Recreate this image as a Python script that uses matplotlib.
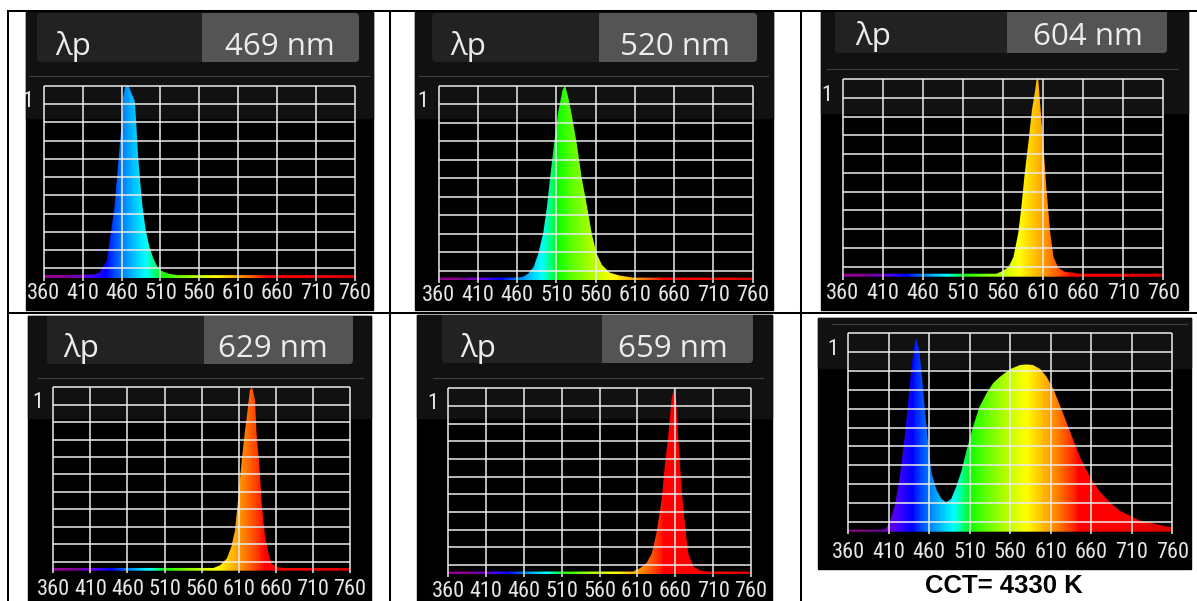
import numpy as np
import matplotlib
matplotlib.use("Agg")
import matplotlib.pyplot as plt
from matplotlib import font_manager as fm
from matplotlib.patches import Rectangle, FancyBboxPatch

W, H = 1197, 601

# wavelength axis labels
ticks = [360, 410, 460, 510, 560, 610, 660, 710, 760]
peak_labels = ["469 nm", "520 nm", "604 nm", "629 nm", "659 nm"]
cct_label = "CCT= 4330 K"

# relative spectra
wl_469 = [360, 425, 432, 441, 446, 451, 455, 459, 462, 465, 469, 472, 477, 479, 481, 484, 487, 491, 496, 501, 506, 510, 518, 530, 760]
rel_469 = [0.015, 0.018, 0.03, 0.09, 0.23, 0.37, 0.56, 0.75, 0.94, 1.0, 1.0, 0.97, 0.92, 0.80, 0.65, 0.50, 0.37, 0.25, 0.16, 0.10, 0.06, 0.04, 0.025, 0.015, 0.015]

wl_520 = [360, 460, 468, 474, 481, 487, 493, 498, 502, 507, 512, 518, 521, 525, 529, 536, 542, 549, 555, 561, 568, 578, 591, 608, 760]
rel_520 = [0.015, 0.015, 0.02, 0.035, 0.07, 0.14, 0.24, 0.38, 0.53, 0.70, 0.86, 0.98, 1.0, 0.94, 0.86, 0.70, 0.53, 0.38, 0.24, 0.14, 0.08, 0.04, 0.025, 0.015, 0.015]

wl_604 = [360, 552, 560, 567, 573, 579, 583, 587, 592, 596, 600, 602, 604, 607, 610, 614, 619, 623, 629, 637, 656, 760]
rel_604 = [0.015, 0.015, 0.03, 0.05, 0.10, 0.22, 0.355, 0.52, 0.69, 0.84, 0.94, 1.0, 1.0, 0.84, 0.69, 0.455, 0.22, 0.10, 0.045, 0.025, 0.015, 0.015]

wl_629 = [360, 576, 585, 594, 600, 605, 609, 614, 618, 622, 625, 628, 632, 634, 638, 641, 645, 650, 654, 661, 670, 760]
rel_629 = [0.015, 0.015, 0.03, 0.067, 0.13, 0.22, 0.385, 0.60, 0.75, 0.876, 0.985, 1.0, 0.93, 0.75, 0.567, 0.367, 0.204, 0.095, 0.04, 0.02, 0.015, 0.015]

wl_659 = [360, 604, 613, 622, 629, 635, 642, 646, 651, 655, 658, 661, 664, 668, 673, 677, 684, 693, 699, 760]
rel_659 = [0.015, 0.015, 0.032, 0.06, 0.113, 0.22, 0.40, 0.58, 0.76, 0.94, 1.0, 0.94, 0.72, 0.47, 0.256, 0.113, 0.041, 0.02, 0.015, 0.015]

wl_cct = [360, 403, 407, 411, 418, 424, 430, 434, 438, 442, 444, 448, 451, 455, 459, 463, 469, 475, 481, 487, 493, 500, 506, 514, 522, 531, 539, 547, 560, 572, 580, 588, 597, 605, 613, 621, 630, 638, 646, 654, 662, 671, 683, 695, 708, 720, 736, 749, 760]
rel_cct = [0.01, 0.01, 0.02, 0.047, 0.14, 0.29, 0.49, 0.66, 0.83, 0.95, 0.975, 0.90, 0.78, 0.595, 0.43, 0.29, 0.21, 0.165, 0.148, 0.165, 0.224, 0.31, 0.41, 0.53, 0.63, 0.70, 0.75, 0.78, 0.82, 0.84, 0.843, 0.84, 0.82, 0.78, 0.72, 0.64, 0.545, 0.46, 0.376, 0.31, 0.25, 0.20, 0.148, 0.106, 0.08, 0.056, 0.042, 0.03, 0.022]

# pick a narrow face for the instrument's axis numbers
names = {f.name for f in fm.fontManager.ttflist}
if "Liberation Sans Narrow" in names:
    narrow = fm.FontProperties(family="Liberation Sans Narrow", size=16)
elif "Roboto Condensed" in names:
    narrow = fm.FontProperties(family="Roboto Condensed", size=16)
else:
    narrow = fm.FontProperties(family="DejaVu Sans", stretch="condensed", size=14)
head_font = "Open Sans" if "Open Sans" in names else "DejaVu Sans"


def wl_rgb(w):
    # Bruton style wavelength -> colour, a little less red in the violet
    if w < 440:
        r, g, b = min(1.0, (440 - w) / 60) ** 1.4, 0.0, 1.0
    elif w < 490:
        r, g, b = 0.0, (w - 440) / 50, 1.0
    elif w < 510:
        r, g, b = 0.0, 1.0, (510 - w) / 20
    elif w < 580:
        r, g, b = (w - 510) / 70, 1.0, 0.0
    elif w < 645:
        r, g, b = 1.0, (645 - w) / 65, 0.0
    else:
        r, g, b = 1.0, 0.0, 0.0
    if w < 420:
        f = max(0.5, 0.3 + 0.7 * (w - 380) / 40)
    elif w > 700:
        f = 1 - 0.2 * (w - 700) / 60
    else:
        f = 1.0
    return [(c * f) ** 0.8 for c in (r, g, b)]


lam = np.arange(360, 761)
spec_img = np.array([wl_rgb(w) for w in lam])[np.newaxis, :, :]

fig = plt.figure(figsize=(W / 100, H / 100), dpi=100, facecolor="white")
ax0 = fig.add_axes([0, 0, 1, 1])
ax0.set_xlim(0, W)
ax0.set_ylim(H, 0)
ax0.axis("off")


def fig_rect(x0, y0, x1, y1):
    return [x0 / W, 1 - y1 / H, (x1 - x0) / W, (y1 - y0) / H]


def draw_panel(panel, light_to, sep, grid, wl, rel, header=None, lab_pad=3.0):
    px0, py0, px1, py1 = panel
    bg = Rectangle((px0, py0), px1 - px0, py1 - py0, color="black", zorder=1)
    ax0.add_patch(bg)
    ax0.add_patch(Rectangle((px0, py0), px1 - px0, light_to - py0, color="#111111", zorder=1.5))
    sy, sx0, sx1 = sep
    ax0.plot([sx0, sx1], [sy, sy], color="#404040", lw=0.8, zorder=2)

    if header is not None:
        (hx0, hy0, hx1, hy1, split), lam_pos, val_pos, text = header
        rr = 4
        boxes = [
            FancyBboxPatch((hx0 + rr, hy0 + rr), hx1 - hx0 - 2 * rr, hy1 - hy0 - 2 * rr,
                           boxstyle="round,pad=%d" % rr, fc="#222222", ec="none", zorder=2),
            FancyBboxPatch((split + rr, hy0 + rr), hx1 - split - 2 * rr, hy1 - hy0 - 2 * rr,
                           boxstyle="round,pad=%d" % rr, fc="#545454", ec="none", zorder=2.1),
            Rectangle((split, hy0), 2 * rr + 1, hy1 - hy0, fc="#545454", ec="none", zorder=2.2),
        ]
        for b in boxes:
            ax0.add_patch(b)
            b.set_clip_path(bg)
        ax0.text(lam_pos[0], lam_pos[1], "λp", color="#ececec", fontsize=22.5,
                 family=head_font, ha="left", va="baseline", zorder=3)
        ax0.text(val_pos[0], val_pos[1], text, color="#ececec", fontsize=22.5,
                 family=head_font, ha="right", va="baseline", zorder=3)

    gx0, gx1, gtop, gbase, gbot = grid
    npp = 400 / (gx1 - gx0)
    u = 1 / (gbase - gtop)
    ax = fig.add_axes(fig_rect(gx0 - 1, gtop - 1, gx1 + 1, gbot))
    ax.set_facecolor("none")
    for s in ax.spines.values():
        s.set_visible(False)

    poly = ax.fill_between(wl, 0, rel, facecolor="none", edgecolor="none")
    im = ax.imshow(spec_img, extent=[360, 760, 0, 1], aspect="auto",
                   interpolation="bilinear", zorder=1)
    im.set_clip_path(poly.get_paths()[0], transform=ax.transData)

    ylo = -(gbot - gbase) * u
    hl = np.linspace(0.05, 1.0, 11)
    ax.hlines(hl, 360, 760, color="#ececec", lw=1.1, zorder=3)
    ax.vlines(ticks, ylo, 1.0, color="#ececec", lw=1.1, zorder=3)

    ax.set_xlim(360 - npp, 760 + npp)
    ax.set_ylim(ylo, 1 + u)
    ax.set_xticks(ticks, [str(t) for t in ticks])
    ax.set_yticks([0.93], ["1"])
    ax.tick_params(length=0, colors="#e6e6e6")
    ax.tick_params(axis="x", pad=lab_pad)
    ax.tick_params(axis="y", pad=6.5)
    for lab in ax.get_xticklabels() + ax.get_yticklabels():
        lab.set_fontproperties(narrow)
    return ax


draw_panel((26, 12, 373, 310), 118, (76, 29, 369), (43.7, 355, 85.7, 278, 280.5),
           wl_469, rel_469, header=((37, 13, 359, 62, 202), (55, 55), (335, 55), peak_labels[0]), lab_pad=2.0)
draw_panel((415, 12, 773, 310), 118, (76, 419, 768), (438.7, 752.7, 85.7, 280.5, 283),
           wl_520, rel_520, header=((432, 13, 757, 62, 599), (450, 55), (730, 55), peak_labels[1]), lab_pad=1.5)
draw_panel((821, 12, 1188, 310), 113, (69, 827, 1178), (842.7, 1163.3, 79, 276.7, 279.5),
           wl_604, rel_604, header=((835, 6, 1167, 53, 1007), (855, 45), (1143, 45), peak_labels[2]), lab_pad=2.5)
draw_panel((28, 316, 371, 601), 418, (378, 38, 363), (53.3, 350, 387.3, 570.7, 573.3),
           wl_629, rel_629, header=((47, 312, 353, 364, 204), (63, 357), (328, 357), peak_labels[3]), lab_pad=4.0)
draw_panel((417, 315, 772, 601), 418, (378, 433, 763), (448.3, 751, 388.3, 574.3, 576.5),
           wl_659, rel_659, header=((442, 311, 753, 363, 602), (460, 357), (728, 357), peak_labels[4]), lab_pad=3.0)
draw_panel((818, 318, 1191, 569), 368, (324, 832, 1187), (848.3, 1172.3, 333.3, 531.7, 534),
           wl_cct, rel_cct, lab_pad=5.5)

ax0.text(1004, 586, cct_label, ha="center", va="center", fontsize=18.5,
         fontweight="bold", family="Liberation Sans", color="black", zorder=5)

# table rules
lw = 1.45
ax0.plot([8, W], [11, 11], color="black", lw=lw, zorder=6)
ax0.plot([8, W], [313, 313], color="black", lw=lw, zorder=6)
ax0.plot([8, 8], [11, H], color="black", lw=lw, zorder=6)
ax0.plot([389.5, 389.5], [11, H], color="black", lw=lw, zorder=6)
ax0.plot([800.5, 800.5], [11, H], color="black", lw=lw, zorder=6)

fig.savefig("out.png", dpi=100, facecolor="white")
